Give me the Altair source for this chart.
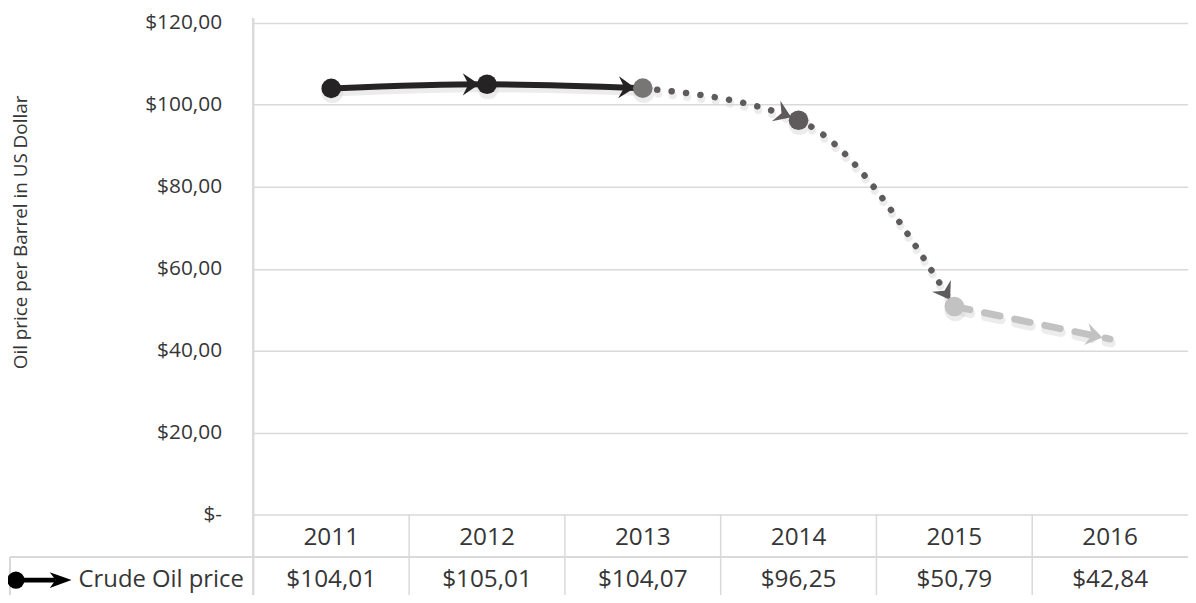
import altair as alt
import pandas as pd

# ---- data ----
years = [2011, 2012, 2013, 2014, 2015, 2016]
prices = [104.01, 105.01, 104.07, 96.25, 50.79, 42.84]
y_ticks = [0, 20, 40, 60, 80, 100, 120]
series_name = "Crude Oil price"
y_title = "Oil price per Barrel in US Dollar"

df = pd.DataFrame({"year": years, "price": prices})

# ---- styling ----
TOP = 13                 # page y of plot top = 8 + TOP
W, H = 941, 516 - 8 - 13
OY = 8 + TOP             # page -> plot y offset
FONT = "Open Sans"
BLACK = "#262324"
MID = "#787575"
DARK = "#5f5b5c"
LIGHT = "#c2c2c2"
GRID = "#d9d9d9"
TXT = "#363636"
SHADOW = "#d4d4d4"
ARROW = "M -0.62 0 L -1.9 -0.87 L -1.45 0 L -1.9 0.87 Z"
KEY_ARROW = "M 0 0 L -2.2 -0.8 L -1.6 0 L -2.2 0.8 Z"

xs = alt.Scale(domain=[2010.5, 2016.5])
ys = alt.Scale(domain=[0, 120])

base = alt.Chart(df).encode(
    x=alt.X("year:Q", scale=xs, axis=None),
    y=alt.Y(
        "price:Q",
        scale=ys,
        axis=alt.Axis(
            values=y_ticks,
            labelExpr="datum.value == 0 ? '$-\u00a0\u00a0' : '$' + replace(format(datum.value, '.2f'), '.', ',')",
            title=None,
            domain=False,
            ticks=False,
            grid=True,
            gridColor=GRID,
            gridWidth=1.5,
            labelFont=FONT,
            labelFontSize=21,
            labelColor=TXT,
            labelPadding=32,
        ),
    ),
)

# soft shadows under the line
sh_kw = dict(color=SHADOW, interpolate="monotone", strokeCap="round", opacity=0.45, yOffset=4, xOffset=1)
sh_black = base.transform_filter("datum.year <= 2013").mark_line(strokeWidth=8, **sh_kw)
sh_dot = base.transform_filter("datum.year >= 2013 && datum.year <= 2015").mark_line(
    strokeWidth=8, strokeDash=[0.1, 14.5], **sh_kw)
sh_dash = base.transform_filter("datum.year >= 2015").mark_line(strokeWidth=9, strokeDash=[16, 15], **sh_kw)
sh_dots = base.transform_filter("datum.year < 2016").mark_circle(
    size=480, color=SHADOW, opacity=0.45, yOffset=4, xOffset=1)

# line segments
seg_black = base.transform_filter("datum.year <= 2013").mark_line(
    color=BLACK, strokeWidth=6, interpolate="monotone", strokeCap="round"
)
seg_dot = base.transform_filter("datum.year >= 2013 && datum.year <= 2015").mark_line(
    color=DARK, strokeWidth=6.5, interpolate="monotone", strokeCap="round",
    strokeDash=[0.1, 14.5]
)
seg_dash = base.transform_filter("datum.year >= 2015").mark_line(
    color=LIGHT, strokeWidth=7, interpolate="monotone", strokeCap="round",
    strokeDash=[16, 15]
)

# arrowheads, oriented along the monotone curve tangent
win = [
    alt.WindowFieldDef(op="lag", field="price", param=1, **{"as": "p1"}),
    alt.WindowFieldDef(op="lag", field="price", param=2, **{"as": "p2"}),
    alt.WindowFieldDef(op="lead", field="price", param=1, **{"as": "n1"}),
]
sg = lambda v: f"(datum.{v}>0?1:(datum.{v}<0?-1:0))"
arrows = (
    base.transform_window(window=win, frame=[None, None], sort=[alt.SortField("year", order="ascending")])
    .transform_calculate(si="datum.price - datum.p1")
    .transform_calculate(so="datum.n1 - datum.price")
    .transform_calculate(sp="datum.p1 - datum.p2")
    .transform_calculate(t3=f"({sg('si')}+{sg('so')})*min(abs(datum.si),abs(datum.so),0.25*abs(datum.si+datum.so))")
    .transform_calculate(tp=f"({sg('sp')}+{sg('si')})*min(abs(datum.sp),abs(datum.si),0.25*abs(datum.sp+datum.si))")
    .transform_calculate(t="(datum.year==2012||datum.year==2014) ? datum.t3 : ((datum.year==2013||datum.year==2015) ? (3*datum.si - datum.tp)/2 : datum.si)")
    .transform_calculate(ang=f"(atan2(-datum.t*{H}/120, {W}/6)*180/PI + 360) % 360")
    .transform_calculate(acol=f"datum.year <= 2013 ? '{BLACK}' : (datum.year <= 2015 ? '{DARK}' : '{LIGHT}')")
    .transform_filter("datum.year > 2011")
    .mark_point(shape=ARROW, filled=True, size=660, opacity=1, strokeWidth=0)
    .encode(angle=alt.Angle("ang:Q", scale=None), color=alt.Color("acol:N", scale=None))
)

dots = (
    base.transform_filter("datum.year < 2016")
    .transform_calculate(
        mcol=f"datum.year <= 2012 ? '{BLACK}' : (datum.year == 2013 ? '{MID}' : (datum.year == 2014 ? '{DARK}' : '{LIGHT}'))"
    )
    .mark_circle(size=390, opacity=1)
    .encode(color=alt.Color("mcol:N", scale=None))
)

# ---- data table under the plot ----
BOT = 603 - OY          # plot y of the page bottom
seps = (
    base.transform_filter("datum.year < 2016")
    .transform_calculate(sep="datum.year + 0.5")
    .mark_rule(color=GRID, strokeWidth=1.5)
    .encode(x=alt.X("sep:Q", scale=xs, axis=None), y=alt.value(H), y2=alt.value(BOT))
)
left_rule = base.mark_rule(color=GRID, strokeWidth=1.5).encode(
    x=alt.value(0), y=alt.value(-5), y2=alt.value(BOT)
)
row_rule = base.mark_rule(color=GRID, strokeWidth=1.5).encode(
    x=alt.value(-245), x2=alt.value(W), y=alt.value(559 - OY)
)
box_rule = base.mark_rule(color=GRID, strokeWidth=1.5).encode(
    x=alt.value(-245), y=alt.value(559 - OY), y2=alt.value(BOT)
)

year_text = (
    base.transform_calculate(ylab="'' + datum.year")
    .mark_text(font=FONT, fontSize=24.5, color=TXT, baseline="alphabetic", align="center")
    .encode(y=alt.value(547 - OY), text="ylab:N")
)
price_text = (
    base.transform_calculate(plab="'$' + replace(format(datum.price, '.2f'), '.', ',')")
    .mark_text(font=FONT, fontSize=24.5, color=TXT, baseline="alphabetic", align="center")
    .encode(y=alt.value(589 - OY), text="plab:N")
)

one = alt.Chart(alt.Data(values=[{"label": series_name, "title": y_title}]))
KY = 582 - OY
key_line = one.mark_rule(color="#000000", strokeWidth=5).encode(
    x=alt.value(-239), x2=alt.value(-199), y=alt.value(KY)
)
key_dot = one.mark_circle(color="#000000", size=300, opacity=1).encode(
    x=alt.value(-239), y=alt.value(KY)
)
key_arrow = one.mark_point(shape=KEY_ARROW, filled=True, size=400, color="#000000", opacity=1, strokeWidth=0).encode(
    x=alt.value(-183), y=alt.value(KY)
)
key_text = one.mark_text(font=FONT, fontSize=24, color=TXT, align="left", baseline="alphabetic").encode(
    x=alt.value(-176), y=alt.value(589 - OY), text="label:N"
)
title_text = one.mark_text(font=FONT, fontSize=19, color=TXT, align="center", baseline="middle", angle=270).encode(
    x=alt.value(-234), y=alt.value(232 - OY), text="title:N"
)

chart = (
    alt.layer(
        seps, left_rule, row_rule, box_rule,
        sh_black, sh_dot, sh_dash, sh_dots,
        seg_black, seg_dot, seg_dash, arrows, dots,
        year_text, price_text,
        key_line, key_dot, key_arrow, key_text, title_text,
    )
    .properties(
        width=W,
        height=H,
        autosize=alt.AutoSizeParams(type="none"),
        padding={"left": 247, "top": TOP, "right": 0, "bottom": 595 - 8 - TOP - H},
    )
    .configure_view(strokeWidth=0)
)

chart.save("out.html", embed_options={"renderer": "svg", "actions": False})
